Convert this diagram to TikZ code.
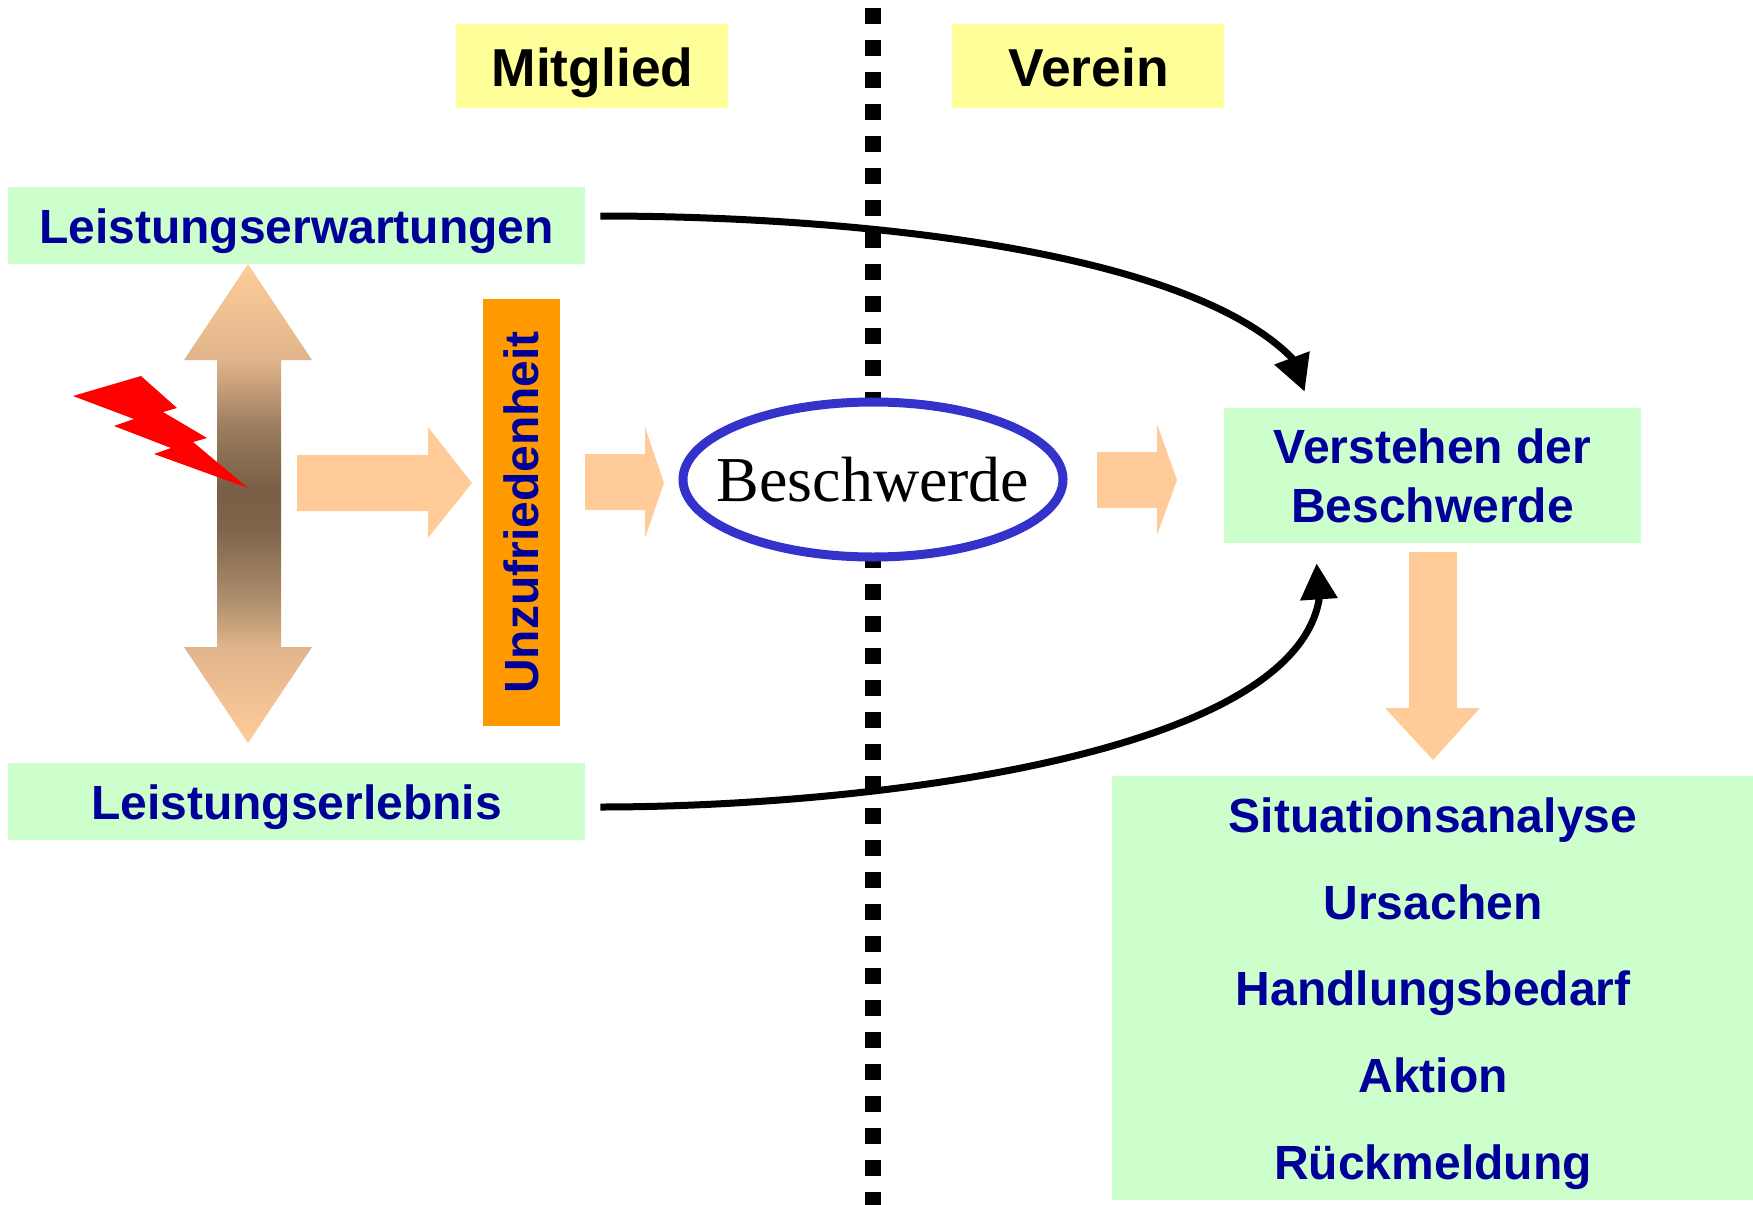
\documentclass[tikz,border=0pt]{standalone}
\usepackage{fontspec}
\setmainfont{Liberation Sans}
\newfontfamily\serifface{Liberation Serif}
\usetikzlibrary{arrows.meta,shapes.geometric}
\definecolor{mint}{HTML}{CCFFCC}
\definecolor{pale}{HTML}{FFFF99}
\definecolor{peach}{HTML}{FFCC99}
\definecolor{navy}{HTML}{000099}
\definecolor{ringblue}{HTML}{3333CC}
\definecolor{amber}{HTML}{FF9900}
\definecolor{shA}{HTML}{E0B48B}
\definecolor{shB}{HTML}{AE8E6D}
\definecolor{shC}{HTML}{7F654B}
\definecolor{shD}{HTML}{775E45}
\definecolor{shE}{HTML}{9A7B5E}
\pgfdeclareverticalshading{dblshade}{100bp}{
  color(0bp)=(peach); color(25bp)=(peach); color(35bp)=(shA); color(39.9bp)=(shB);
  color(47.2bp)=(shC); color(51.4bp)=(shD); color(57.7bp)=(shE); color(65bp)=(shA);
  color(75bp)=(peach); color(100bp)=(peach)}
\tikzset{
  x=0.5pt,y=-0.5pt,
  fontA/.style={font=\fontsize{24}{30}\selectfont\bfseries},
  greenbox/.style={fill=mint,fontA,text=navy,align=center,inner sep=0pt},
  greenline/.style={greenbox,text height=23pt,text depth=5pt},
  listline/.style={fontA,text=navy,inner sep=0pt,text height=20.6pt,text depth=5pt},
  headbox/.style={fill=pale,font=\fontsize{26.7}{32}\selectfont\bfseries,text=black,inner sep=0pt,text height=26pt,text depth=6pt,minimum width=136pt,minimum height=42pt},
  blockarrow/.style={fill=peach,draw=none},
  curved/.style={line width=3.5pt,draw=black,-{Triangle[length=18pt,width=18pt]}},
}
\begin{document}
\begin{tikzpicture}
\useasboundingbox (0,0) rectangle (1753,1205);
% divider
\coordinate (divtop) at (872.5,8);
\coordinate (divbot) at (872.5,1205);
\draw[line width=8pt,dash pattern=on 8pt off 8pt] (divtop) -- (divbot);
% headers
\node[headbox] (mitglied) at (592,66) {\hspace*{0.5pt}Mitglied};
\node[headbox] (verein) at (1088,66) {\hspace*{0.5pt}Verein};
% left boxes
\node[greenline,minimum width=288.5pt,minimum height=38.5pt] (erwart) at (296.5,225.5) {Leistungserwartungen};
\node[greenline,minimum width=288.5pt,minimum height=38.5pt] (erleb) at (296.5,801) {Leistungserlebnis};
% double arrow
\path[shade,shading=dblshade]
  (248,264) -- (312,360) -- (281,360) -- (281,647) -- (312,647) -- (248,743)
  -- (184,647) -- (217,647) -- (217,360) -- (184,360) -- cycle;
% lightning
\fill[red] (73,396) -- (141,376) -- (177,408) -- (163,412) -- (207,438) -- (193,442)
  -- (248,488) -- (154,454) -- (171,448) -- (114,426) -- (134,419) -- cycle;
% block arrows
\fill[blockarrow] (297,455) -- (428,455) -- (428,427) -- (472,483) -- (428,538) -- (428,511) -- (297,511) -- cycle;
\node[fill=amber,text=navy,fontA,rotate=90,inner sep=0pt,minimum width=213.5pt,minimum height=38.5pt] (unzuf) at (521.5,512.5) {Unzufriedenheit};
\fill[blockarrow] (585,454) -- (645,454) -- (645,427) -- (664,483) -- (645,538) -- (645,510) -- (585,510) -- cycle;
% ellipse
\node[ellipse,draw=ringblue,fill=white,line width=4.5pt,minimum width=190pt,minimum height=77.5pt,inner sep=0pt,font=\serifface\fontsize{32}{38}\selectfont,text=black] (beschw) at (873,479.5) {\makebox[0pt]{Beschwerde}};
\fill[blockarrow] (1097,452) -- (1157,452) -- (1157,424) -- (1177,480) -- (1157,535) -- (1157,508) -- (1097,508) -- cycle;
% right boxes
\node[greenbox,minimum width=208.5pt,minimum height=67.5pt,font=\fontsize{24}{29.6}\selectfont\bfseries] (verst) at (1432.5,475.5) {Verstehen der\\Beschwerde};
\fill[blockarrow] (1409,552) -- (1457,552) -- (1457,708) -- (1480,708) -- (1433,760) -- (1385,708) -- (1409,708) -- cycle;
\node[greenbox,minimum width=320.5pt,minimum height=212pt] (massn) at (1432.75,988) {};
\node[listline] (t1) at (1433,817) {Situationsanalyse};
\node[listline] (t2) at (1433,904) {Ursachen};
\node[listline] (t3) at (1433,990) {Handlungsbedarf};
\node[listline] (t4) at (1433,1077) {Aktion};
\node[listline] (t5) at (1433,1164) {Rückmeldung};
% connectors
\draw[curved] ([shift={(15,-9.5)}]erwart.east) .. controls (830,216) and (1180,245) .. (1292,358) -- ([shift={(81,-16)}]verst.north west);
\draw[curved] ([shift={(15,6)}]erleb.east) .. controls (850,807) and (1290,760) .. (1319,600) -- ([shift={(93,20)}]verst.south west);
\end{tikzpicture}
\end{document}
